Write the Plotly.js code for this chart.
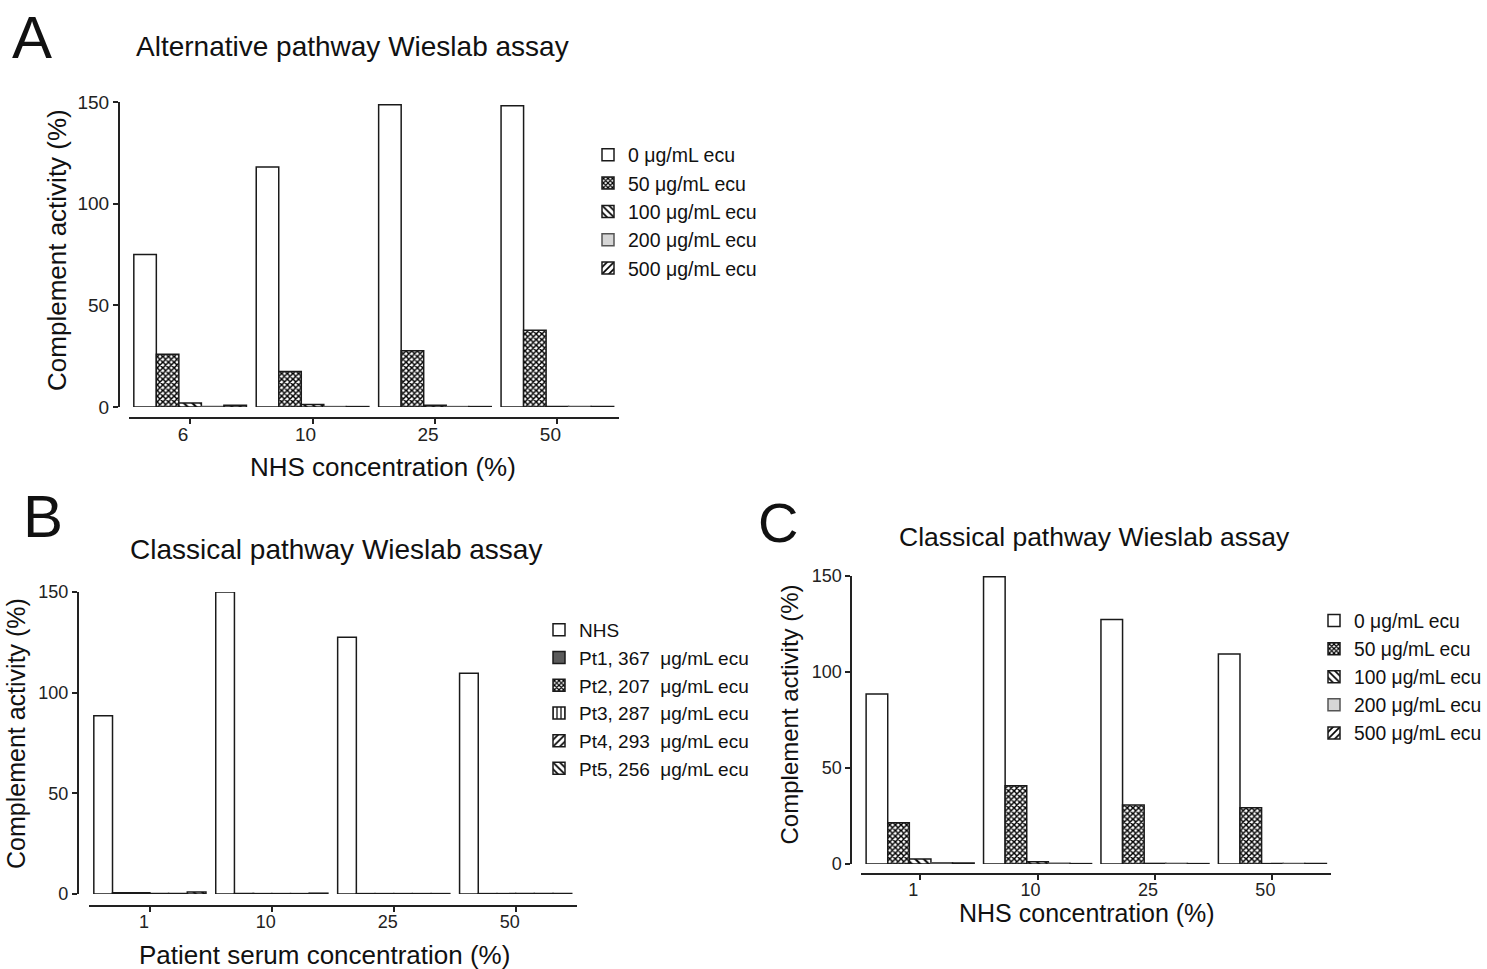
<!DOCTYPE html>
<html>
<head>
<meta charset="utf-8">
<script src="https://cdn.plot.ly/plotly-3.0.1.min.js"></script>
<style>html,body{margin:0;padding:0;background:#fff;}#chart{width:1487px;height:969px;}</style>
</head>
<body>
<div id="chart"></div>
<script>
// ---------- Data ----------
const catsA = ['6', '10', '25', '50'];
const ecuLabels = ['0 μg/mL ecu', '50 μg/mL ecu', '100 μg/mL ecu', '200 μg/mL ecu', '500 μg/mL ecu'];
const a_ecu0   = [75.0, 118.0, 148.6, 148.1];
const a_ecu50  = [25.9, 17.5, 27.7, 37.7];
const a_ecu100 = [2.0, 1.2, 0.8, 0.2];
const a_ecu200 = [0.3, 0.2, 0.2, 0.2];
const a_ecu500 = [0.8, 0.2, 0.2, 0.2];

const catsB = ['1', '10', '25', '50'];
const ptLabels = ['NHS', 'Pt1, 367  μg/mL ecu', 'Pt2, 207  μg/mL ecu', 'Pt3, 287  μg/mL ecu', 'Pt4, 293  μg/mL ecu', 'Pt5, 256  μg/mL ecu'];
const b_nhs = [88.5, 150.0, 127.5, 109.7];
const b_pt1 = [0.6, 0.2, 0.2, 0.2];
const b_pt2 = [0.6, 0.2, 0.2, 0.2];
const b_pt3 = [0.2, 0.2, 0.2, 0.2];
const b_pt4 = [0.3, 0.2, 0.2, 0.2];
const b_pt5 = [1.0, 0.4, 0.2, 0.2];

const catsC = ['1', '10', '25', '50'];
const c_ecu0   = [88.5, 149.6, 127.4, 109.4];
const c_ecu50  = [21.5, 40.8, 30.7, 29.3];
const c_ecu100 = [2.6, 1.2, 0.3, 0.2];
const c_ecu200 = [0.7, 0.4, 0.3, 0.2];
const c_ecu500 = [0.5, 0.2, 0.2, 0.2];

const yTicks = [0, 50, 100, 150];

// ---------- Styles ----------
const W = 1487, H = 969;
const px = v => v / W;
const py = v => 1 - v / H;
const FONT = 'Liberation Sans, Arial, sans-serif';
const EDGE = {color: '#1a1a1a', width: 1.5};

const styles = {
  white:   {color: '#ffffff', line: EDGE},
  checker: {color: '#ffffff', line: EDGE, pattern: {shape: 'x', size: 4, solidity: 0.6, fgcolor: '#000', bgcolor: '#fff'}},
  back:    {color: '#ffffff', line: EDGE, pattern: {shape: '\\', size: 6, solidity: 0.35, fgcolor: '#000', bgcolor: '#fff'}},
  fwd:     {color: '#ffffff', line: EDGE, pattern: {shape: '/', size: 6, solidity: 0.35, fgcolor: '#000', bgcolor: '#fff'}},
  vert:    {color: '#ffffff', line: EDGE, pattern: {shape: '|', size: 5, solidity: 0.3, fgcolor: '#000', bgcolor: '#fff'}},
  gray:    {color: '#d6d6d6', line: {color: '#555', width: 1.5}},
  dark:    {color: '#5a5a5a', line: EDGE}
};

function bar(x, y, name, st, xa, ya, leg) {
  return {type: 'bar', x: x, y: y, name: name, marker: st, xaxis: xa, yaxis: ya, legend: leg,
          hoverinfo: 'x+y+name'};
}

const traces = [
  bar(catsA, a_ecu0,   ecuLabels[0], styles.white,   'x',  'y',  'legend'),
  bar(catsA, a_ecu50,  ecuLabels[1], styles.checker, 'x',  'y',  'legend'),
  bar(catsA, a_ecu100, ecuLabels[2], styles.back,    'x',  'y',  'legend'),
  bar(catsA, a_ecu200, ecuLabels[3], styles.gray,    'x',  'y',  'legend'),
  bar(catsA, a_ecu500, ecuLabels[4], styles.fwd,     'x',  'y',  'legend'),

  bar(catsB, b_nhs, ptLabels[0], styles.white,   'x2', 'y2', 'legend2'),
  bar(catsB, b_pt1, ptLabels[1], styles.dark,    'x2', 'y2', 'legend2'),
  bar(catsB, b_pt2, ptLabels[2], styles.checker, 'x2', 'y2', 'legend2'),
  bar(catsB, b_pt3, ptLabels[3], styles.vert,    'x2', 'y2', 'legend2'),
  bar(catsB, b_pt4, ptLabels[4], styles.fwd,     'x2', 'y2', 'legend2'),
  bar(catsB, b_pt5, ptLabels[5], styles.back,    'x2', 'y2', 'legend2'),

  bar(catsC, c_ecu0,   ecuLabels[0], styles.white,   'x3', 'y3', 'legend3'),
  bar(catsC, c_ecu50,  ecuLabels[1], styles.checker, 'x3', 'y3', 'legend3'),
  bar(catsC, c_ecu100, ecuLabels[2], styles.back,    'x3', 'y3', 'legend3'),
  bar(catsC, c_ecu200, ecuLabels[3], styles.gray,    'x3', 'y3', 'legend3'),
  bar(catsC, c_ecu500, ecuLabels[4], styles.fwd,     'x3', 'y3', 'legend3')
];

function xAxis(x0, x1, yPos, size, shift) {
  return {type: 'category', domain: [px(x0), px(x1)], range: [-0.5, 3.5], anchor: 'free', position: py(yPos),
          showline: true, linecolor: '#222', linewidth: 2, ticks: 'outside', ticklen: 5, tickwidth: 1.5,
          tickcolor: '#222', showgrid: false, zeroline: false, fixedrange: true,
          ticklabelstandoff: -6, ticklabelshift: shift,
          tickfont: {family: FONT, size: size, color: '#222'}};
}
function yAxis(xPos, yBottom, yTop, size) {
  return {domain: [py(yBottom), py(yTop)], range: [0, 150], anchor: 'free', position: px(xPos),
          tickvals: yTicks, ticktext: yTicks.map(String),
          showline: true, linecolor: '#222', linewidth: 2, ticks: 'outside', ticklen: 5, tickwidth: 1.5,
          tickcolor: '#222', showgrid: false, zeroline: false, fixedrange: true,
          tickfont: {family: FONT, size: size, color: '#222'}};
}
function legendAt(x, y, size) {
  return {x: px(x), y: py(y), xanchor: 'left', yanchor: 'top', bgcolor: 'rgba(0,0,0,0)',
          font: {family: FONT, size: size, color: '#111'}, tracegroupgap: 0, itemclick: false, itemdoubleclick: false};
}
function ann(text, x, y, size, angle) {
  return {text: text, x: px(x), y: py(y), xref: 'paper', yref: 'paper', showarrow: false,
          xanchor: 'center', yanchor: 'middle', textangle: angle || 0,
          font: {family: FONT, size: size, color: '#111'}};
}

const layout = {
  width: W, height: H,
  margin: {l: 0, r: 0, t: 0, b: 0},
  paper_bgcolor: '#fff', plot_bgcolor: 'rgba(0,0,0,0)',
  barmode: 'group', bargap: 0.08, bargroupgap: 0,
  showlegend: true,
  font: {family: FONT, color: '#111'},
  xaxis:  xAxis(129, 619, 418, 19, -7),
  yaxis:  yAxis(119, 407, 102, 19),
  xaxis2: xAxis(89, 577, 906, 18, -6),
  yaxis2: yAxis(78, 894, 592, 18),
  xaxis3: xAxis(862, 1332, 874, 18, -7),
  yaxis3: yAxis(852, 864, 576, 18),
  legend:  legendAt(588, 135.5, 19.5),
  legend2: legendAt(539, 611, 19),
  legend3: legendAt(1315, 601.5, 19.3),
  annotations: [
    ann('A', 32, 38, 60),
    ann('Alternative pathway Wieslab assay', 353, 47, 28),
    ann('Complement activity (%)', 57, 250, 26, -90),
    ann('NHS concentration (%)', 383, 467, 26),

    ann('B', 43, 516, 60),
    ann('Classical pathway Wieslab assay', 336, 549, 28),
    ann('Complement activity (%)', 16, 733, 25, -90),
    ann('Patient serum concentration (%)', 325, 955, 26),

    ann('C', 779, 522, 56),
    ann('Classical pathway Wieslab assay', 1095, 537, 26.5),
    ann('Complement activity (%)', 790, 714, 24, -90),
    ann('NHS concentration (%)', 1088, 913, 25)
  ]
};

Plotly.newPlot('chart', traces, layout, {displayModeBar: false, staticPlot: false, responsive: false});
</script>
</body>
</html>
